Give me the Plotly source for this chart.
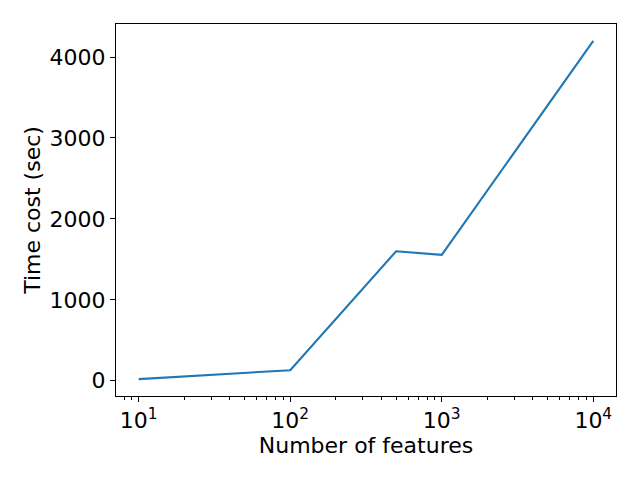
import numpy as np
import plotly.graph_objects as go

n_features = [10, 100, 500, 1000, 10000]
time_cost = [20, 130, 1600, 1555, 4200]
x_tick_vals = [10, 100, 1000, 10000]
x_tick_text = ["10<sup>1</sup>", "10<sup>2</sup>", "10<sup>3</sup>", "10<sup>4</sup>"]
y_tick_vals = [0, 1000, 2000, 3000, 4000]

lx = np.log10(n_features)
xspan = lx.max() - lx.min()
xrange = [lx.min() - 0.05 * xspan, lx.max() + 0.05 * xspan]
yspan = max(time_cost) - min(time_cost)
yrange = [min(time_cost) - 0.05 * yspan, max(time_cost) + 0.05 * yspan]

minor_vals = [m * 10 ** d for d in range(0, 5) for m in range(2, 10)]

fig = go.Figure(go.Scatter(x=n_features, y=time_cost, mode="lines",
                           line=dict(color="#1f77b4", width=2.1)))

font = dict(family="DejaVu Sans", size=22, color="black")
axis_common = dict(showline=True, linecolor="black", linewidth=1.1, mirror=True,
                   showgrid=False, zeroline=False, ticks="outside", ticklen=5,
                   tickwidth=1.1, tickcolor="black", tickfont=font, automargin=False)

fig.update_xaxes(type="log", range=xrange, tickvals=x_tick_vals, ticktext=x_tick_text,
                 title=dict(text="Number of features", font=font, standoff=4),
                 minor=dict(ticks="outside", ticklen=3, tickwidth=0.8, tickcolor="black",
                            tickvals=minor_vals, showgrid=False),
                 **axis_common)
fig.update_yaxes(range=yrange, tickvals=y_tick_vals,
                 title=dict(text="Time cost (sec)", font=font, standoff=2),
                 **axis_common)

fig.update_layout(width=640, height=480, margin=dict(l=116, r=24, t=24, b=84),
                  plot_bgcolor="white", paper_bgcolor="white", showlegend=False,
                  font=font)

fig.write_html("out.html", config={"displayModeBar": False},
               post_script="document.body.style.margin='0';")
